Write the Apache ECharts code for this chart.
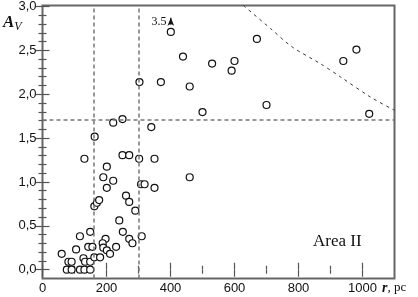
<!DOCTYPE html>
<html>
<head>
<meta charset="utf-8">
<script src="https://cdn.jsdelivr.net/npm/echarts@6/dist/echarts.min.js"></script>
<style>
html, body { margin: 0; padding: 0; background: #fff; }
#chart { width: 418px; height: 297px; }
</style>
</head>
<body>
<div id="chart"></div>
<script>
// distance r (pc) and extinction A_V of the stars
var rValues = [
  60, 81, 91, 76, 91, 105, 117, 131, 128, 133, 117, 149, 149, 149, 143, 156, 162,
  162, 170, 177, 180, 197, 188, 190, 201, 211, 230, 240, 251, 271, 281, 310,
  261, 271, 290,
  163, 131, 221, 250, 250, 271, 302, 350, 340, 201, 190, 221, 201, 308, 319, 350,
  460, 500, 700, 1021,
  401, 439, 530, 600, 591, 670, 303, 370, 460, 981, 940
];
var avValues = [
  0.18, 0.09, 0.09, 0.0, 0.0, 0.23, 0.0, 0.0, 0.13, 0.09, 0.38, 0.43, 0.09, 0.0, 0.26, 0.26, 0.14,
  0.72, 0.76, 0.79, 0.14, 0.35, 0.30, 0.25, 0.22, 0.18, 0.26, 0.56, 0.43, 0.35, 0.30, 0.38,
  0.84, 0.77, 0.67,
  1.51, 1.26, 1.67, 1.71, 1.30, 1.30, 1.26, 1.26, 1.62, 1.17, 1.05, 1.01, 0.93, 0.97, 0.97, 0.93,
  1.05, 1.79, 1.87, 1.77,
  2.70, 2.42, 2.34, 2.37, 2.26, 2.62, 2.13, 2.13, 2.08, 2.50, 2.37
];

// dashed boundary curve
var curveR = [628, 712, 780, 868, 931, 1025, 1100];
var curveAv = [3.0, 2.74, 2.53, 2.34, 2.19, 1.96, 1.81];

// dashed reference lines
var refR = [160, 300];
var refAv = [1.7];

// star whose real value (3.5) is off the chart
var arrowR = 401;
var arrowAv = [2.78, 2.86];
var arrowText = '3.5';

var xRange = [0, 1100];
var yRange = [-0.1, 3.0];
var xTickMax = 1000;
var yTickMax = 3.0;

function initChart(dom) {
  var chart = echarts.init(dom, null, { renderer: 'canvas' });
  var tickColor = '#555';
  var textColor = '#111';
  var sans = 'Liberation Sans';
  var serif = 'Liberation Serif';

  var points = rValues.map(function (r, i) { return [r, avValues[i]]; });
  var curve = curveR.map(function (r, i) { return [r, curveAv[i]]; });

  var refLines = [];
  refR.forEach(function (v) { refLines.push({ xAxis: v }); });
  refAv.forEach(function (v) { refLines.push({ yAxis: v }); });

  var tickAxis = function (extra) {
    var base = {
      type: 'value',
      gridIndex: 1,
      axisLine: { show: false },
      splitLine: { show: false },
      axisTick: { show: true, inside: true, length: 7, lineStyle: { color: tickColor, width: 1.2 } },
      minorTick: { show: true, length: 4, lineStyle: { color: tickColor, width: 1.2 } },
      axisLabel: { show: false }
    };
    return Object.assign(base, extra);
  };

  var option = {
    animation: false,
    grid: [
      { left: 42.5, top: 5.5, width: 352, height: 273, show: true, borderColor: '#666', borderWidth: 2, backgroundColor: 'transparent' },
      { left: 42.5, top: 5.5, width: 320, height: 264.2 }
    ],
    xAxis: [
      { type: 'value', gridIndex: 0, min: xRange[0], max: xRange[1], show: false, splitLine: { show: false } },
      tickAxis({
        position: 'bottom', offset: 8.8, min: 0, max: xTickMax, interval: 200,
        minorTick: { show: true, splitNumber: 2, length: 4, lineStyle: { color: tickColor, width: 1.2 } },
        axisLabel: {
          show: true, margin: 3, color: textColor, fontFamily: sans, fontSize: 13,
          formatter: function (v) { return String(v); }
        }
      }),
      tickAxis({
        position: 'top', min: 0, max: xTickMax, interval: 200,
        minorTick: { show: true, splitNumber: 2, length: 4, lineStyle: { color: tickColor, width: 1.2 } }
      })
    ],
    yAxis: [
      { type: 'value', gridIndex: 0, min: yRange[0], max: yRange[1], show: false, splitLine: { show: false } },
      tickAxis({
        position: 'left', min: 0, max: yTickMax, interval: 0.5,
        minorTick: { show: true, splitNumber: 5, length: 4, lineStyle: { color: tickColor, width: 1.2 } },
        axisLabel: {
          show: true, margin: 6, color: textColor, fontFamily: sans, fontSize: 13,
          formatter: function (v) { return v.toFixed(1).replace('.', ','); }
        }
      }),
      tickAxis({
        position: 'right', offset: 32, min: 0, max: yTickMax, interval: 0.5,
        minorTick: { show: true, splitNumber: 5, length: 4, lineStyle: { color: tickColor, width: 1.2 } }
      })
    ],
    series: [
      {
        // reference lines
        type: 'scatter',
        xAxisIndex: 0,
        yAxisIndex: 0,
        data: [],
        z: 1,
        markLine: {
          silent: true,
          symbol: ['none', 'none'],
          label: { show: false },
          lineStyle: { color: '#777', width: 1.5, type: [4, 3] },
          data: refLines
        }
      },
      {
        type: 'line',
        xAxisIndex: 0,
        yAxisIndex: 0,
        data: curve,
        smooth: 0.3,
        symbol: 'none',
        z: 2,
        lineStyle: { color: '#333', width: 1, type: [3, 4] }
      },
      {
        type: 'scatter',
        xAxisIndex: 0,
        yAxisIndex: 0,
        data: points,
        symbol: 'circle',
        symbolSize: 7,
        z: 3,
        itemStyle: { color: '#fff', borderColor: '#111', borderWidth: 1.2, opacity: 1 }
      },
      {
        type: 'line',
        xAxisIndex: 0,
        yAxisIndex: 0,
        z: 3,
        lineStyle: { color: '#111', width: 1.2 },
        itemStyle: { color: '#111' },
        data: [
          { value: [arrowR, arrowAv[0]], symbol: 'none' },
          {
            value: [arrowR, arrowAv[1]], symbol: 'arrow', symbolSize: [5, 8],
            label: { show: true, position: 'left', distance: 1, formatter: arrowText, color: textColor, fontFamily: serif, fontSize: 12 }
          }
        ]
      }
    ],
    graphic: [
      {
        type: 'text', left: 3, top: 14,
        style: {
          text: '{a|A}{v|V}',
          rich: {
            a: { fontFamily: serif, fontSize: 17, fontWeight: 'bold', fontStyle: 'italic', fill: textColor },
            v: { fontFamily: serif, fontSize: 12, fontStyle: 'italic', fill: textColor, padding: [8, 0, 0, 0] }
          }
        }
      },
      {
        type: 'text', left: 382, top: 281,
        style: {
          text: '{r|r}{p|, pc}',
          rich: {
            r: { fontFamily: serif, fontSize: 14, fontWeight: 'bold', fontStyle: 'italic', fill: textColor },
            p: { fontFamily: serif, fontSize: 13, fill: textColor }
          }
        }
      },
      {
        type: 'text', left: 313, top: 233,
        style: { text: 'Area II', fontFamily: serif, fontSize: 17, fill: textColor }
      }
    ]
  };

  chart.setOption(option, true);
  return chart;
}

initChart(document.getElementById('chart'));
</script>
</body>
</html>
